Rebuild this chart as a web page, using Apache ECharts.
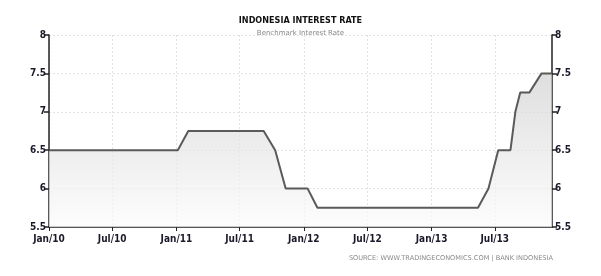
<!DOCTYPE html>
<html>
<head>
<meta charset="utf-8">
<script src="https://cdn.jsdelivr.net/npm/echarts@6/dist/echarts.min.js"></script>
<style>
html,body{margin:0;padding:0;background:#fff;}
#c{width:601px;height:276px;}
</style>
</head>
<body>
<div id="c"></div>
<script>
// Rate decision dates and benchmark rate (%)
const dates = [
 '2010-01-01','2010-02-04','2010-03-04','2010-04-05','2010-05-05','2010-06-04','2010-07-05','2010-08-04','2010-09-06','2010-10-05','2010-11-04','2010-12-03',
 '2011-01-05','2011-02-04','2011-03-04','2011-04-12','2011-05-12','2011-06-09','2011-07-12','2011-08-09','2011-09-08','2011-10-11','2011-11-10','2011-12-08',
 '2012-01-12','2012-02-09','2012-03-08','2012-04-12','2012-05-10','2012-06-12','2012-07-12','2012-08-09','2012-09-13','2012-10-11','2012-11-13','2012-12-11',
 '2013-01-10','2013-02-12','2013-03-12','2013-04-11','2013-05-14','2013-06-13','2013-07-11','2013-08-15','2013-08-29','2013-09-12','2013-10-08','2013-11-12','2013-12-12'
];
const rates = [
 6.5,6.5,6.5,6.5,6.5,6.5,6.5,6.5,6.5,6.5,6.5,6.5,
 6.5,6.75,6.75,6.75,6.75,6.75,6.75,6.75,6.75,6.5,6.0,6.0,
 6.0,5.75,5.75,5.75,5.75,5.75,5.75,5.75,5.75,5.75,5.75,5.75,
 5.75,5.75,5.75,5.75,5.75,6.0,6.5,6.5,7.0,7.25,7.25,7.5,7.5
];
const xTickDates = ['2010-01-01','2010-07-01','2011-01-01','2011-07-01','2012-01-01','2012-07-01','2013-01-01','2013-07-01'];
const xTickLabels = ['Jan/10','Jul/10','Jan/11','Jul/11','Jan/12','Jul/12','Jan/13','Jul/13'];
const yTicks = [5.5, 6, 6.5, 7, 7.5, 8];

const title = 'INDONESIA INTEREST RATE';
const subtitle = 'Benchmark Interest Rate';
const source = 'SOURCE: WWW.TRADINGECONOMICS.COM | BANK INDONESIA';

const ts = s => new Date(s + 'T00:00:00Z').getTime();
const tickTs = xTickDates.map(ts);
const seriesData = dates.map((d, i) => [ts(d), rates[i]]);

const chart = echarts.init(document.getElementById('c'), null, {renderer: 'canvas'});
const labelFont = {fontFamily: 'DejaVu Sans Condensed, DejaVu Sans', fontWeight: 'bold', fontSize: 10, color: '#1a1a2a'};
const yAxisCommon = {
  type: 'value', min: yTicks[0], max: yTicks[yTicks.length - 1], interval: 0.5,
  axisLine: {show: true, lineStyle: {color: '#222', width: 1.5}},
  axisTick: {show: true, length: 5, lineStyle: {color: '#222', width: 1.5}},
  splitLine: {show: true, lineStyle: {color: '#e2e2e2', type: [2, 2]}},
  axisLabel: Object.assign({margin: 3, formatter: v => String(v)}, labelFont)
};
chart.setOption({
  animation: false,
  backgroundColor: '#fff',
  title: [
    {text: title, left: 'center', top: 11, itemGap: 5,
     textStyle: {fontFamily: 'DejaVu Sans Condensed, DejaVu Sans', fontWeight: 'bold', fontSize: 9, color: '#111'},
     subtext: subtitle,
     subtextStyle: {fontFamily: 'DejaVu Sans', fontSize: 7, color: '#888'}},
  ],
  graphic: [{
    type: 'text', right: 48, top: 255,
    style: {text: source, fontFamily: 'DejaVu Sans', fontSize: 6.6, fill: '#8a8a8a'}
  }],
  grid: {left: 49, right: 49, top: 35, bottom: 49, containLabel: false},
  xAxis: {
    type: 'value', min: ts('2010-01-01'), max: ts('2013-12-12'),
    axisLine: {show: true, onZero: false, lineStyle: {color: '#222', width: 1.5}},
    axisTick: {show: true, length: 4, customValues: tickTs, lineStyle: {color: '#222'}},
    splitLine: {show: true, lineStyle: {color: '#e2e2e2', type: [2, 2]}},
    axisLabel: Object.assign({margin: 7, customValues: tickTs, hideOverlap: false,
      formatter: v => { const i = tickTs.indexOf(v); return i >= 0 ? xTickLabels[i] : ''; }}, labelFont)
  },
  yAxis: [
    Object.assign({position: 'left'}, yAxisCommon),
    Object.assign({position: 'right'}, yAxisCommon, {splitLine: {show: false}})
  ],
  series: [{
    type: 'line', data: seriesData, showSymbol: false, symbol: 'none',
    lineStyle: {color: '#5a5a5a', width: 2},
    areaStyle: {
      origin: 'start',
      color: new echarts.graphic.LinearGradient(0, 35, 0, 227, [
        {offset: 0, color: '#c6c6c6'}, {offset: 1, color: '#fcfcfc'}
      ], true)
    },
    yAxisIndex: 0
  }]
});
</script>
</body>
</html>
